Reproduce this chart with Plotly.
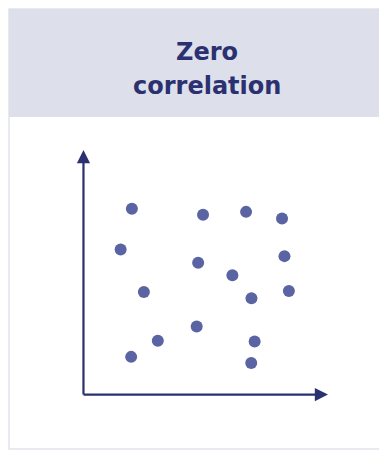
import plotly.graph_objects as go

# point positions on an unlabeled 0-10 scale
x_vals = [1.98, 1.52, 2.47, 1.95, 3.04, 4.89, 4.69, 4.63, 6.09, 6.65, 6.87, 7.00, 6.86, 8.12, 8.22, 8.40]
y_vals = [7.60, 5.93, 4.19, 1.54, 2.20, 7.35, 5.39, 2.78, 4.88, 7.47, 3.94, 2.17, 1.29, 7.20, 5.66, 4.23]
title_lines = ["Zero", "correlation"]

# page has an 8px body margin, so the figure is a bit smaller than the window
OFF = 8
W, H = 387 - OFF, 453 - OFF
navy = "#2b3170"

fig = go.Figure()

fig.add_trace(go.Scatter(
    x=x_vals, y=y_vals, mode="markers",
    marker=dict(size=12, color="#5b64a3"),
    hoverinfo="skip",
))

# window pixel -> paper fraction
def px(v):
    return (v - OFF) / W

def py(v):
    return 1 - (v - OFF) / H

fig.add_shape(type="rect", xref="paper", yref="paper",
              x0=px(9), x1=px(400), y0=py(449), y1=py(9),
              line=dict(color="#e2e4ea", width=1.5), fillcolor="white", layer="below")
fig.add_shape(type="rect", xref="paper", yref="paper",
              x0=px(9), x1=px(400), y0=py(117), y1=py(9),
              line=dict(width=0), fillcolor="#dde0ea", layer="below")

for line, yc in zip(title_lines, [52, 86]):
    fig.add_annotation(
        text=line, xref="paper", yref="paper",
        x=px(207), y=py(yc), showarrow=False,
        font=dict(family="DejaVu Sans", size=24, color=navy, weight="bold"),
        yanchor="middle",
    )

# axis arrows
fig.add_annotation(x=0, y=10, ax=0, ay=-0.06, xref="x", yref="y", axref="x", ayref="y",
                   text="", showarrow=True, arrowhead=2, arrowsize=1.2, arrowwidth=2.2,
                   arrowcolor=navy)
fig.add_annotation(x=10, y=0, ax=-0.06, ay=0, xref="x", yref="y", axref="x", ayref="y",
                   text="", showarrow=True, arrowhead=2, arrowsize=1.2, arrowwidth=2.2,
                   arrowcolor=navy)

fig.update_xaxes(range=[-0.06, 10], domain=[px(82), px(328)], visible=False)
fig.update_yaxes(range=[-0.06, 10], domain=[py(396), py(150)], visible=False)

fig.update_layout(
    width=W, height=H,
    margin=dict(l=0, r=0, t=0, b=0),
    paper_bgcolor="white", plot_bgcolor="rgba(0,0,0,0)",
    showlegend=False,
)

fig.write_html("out.html")
